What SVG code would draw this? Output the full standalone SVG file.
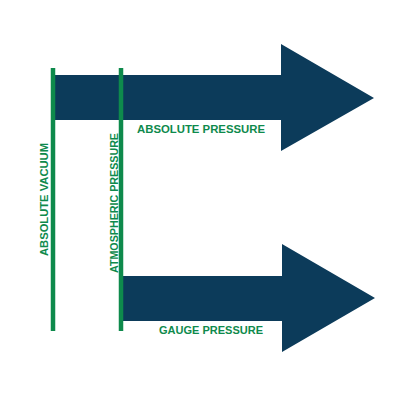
<svg xmlns="http://www.w3.org/2000/svg" width="400" height="400" viewBox="0 0 400 400">
<style>
.arrow{fill:#0c3b5a}
.line{stroke:#0e8a4c;stroke-width:4.5}
.lbl{fill:#0e8a4c;font-family:"Liberation Sans",Arial,sans-serif;font-weight:bold;font-size:11.5px}
</style>
<rect width="400" height="400" fill="#ffffff"/>
<g id="absolute-pressure-arrow">
<polygon class="arrow" points="55,75 281,75 281,44 374,98 281,151 281,120 55,120"/>
<text class="lbl" x="137" y="132.5" textLength="128" lengthAdjust="spacingAndGlyphs">ABSOLUTE PRESSURE</text>
</g>
<g id="gauge-pressure-arrow">
<polygon class="arrow" points="123,276 282,276 282,244 375,298 282,352 282,321 123,321"/>
<text class="lbl" x="159" y="333.5" textLength="104" lengthAdjust="spacingAndGlyphs">GAUGE PRESSURE</text>
</g>
<g id="absolute-vacuum">
<line class="line" x1="53" y1="68" x2="53" y2="331"/>
<text class="lbl" transform="translate(47.5,256) rotate(-90)" textLength="113" lengthAdjust="spacingAndGlyphs">ABSOLUTE VACUUM</text>
</g>
<g id="atmospheric-pressure">
<line class="line" x1="121" y1="68" x2="121" y2="331"/>
<text class="lbl" transform="translate(117.5,273) rotate(-90)" textLength="140" lengthAdjust="spacingAndGlyphs">ATMOSPHERIC PRESSURE</text>
</g>
</svg>
